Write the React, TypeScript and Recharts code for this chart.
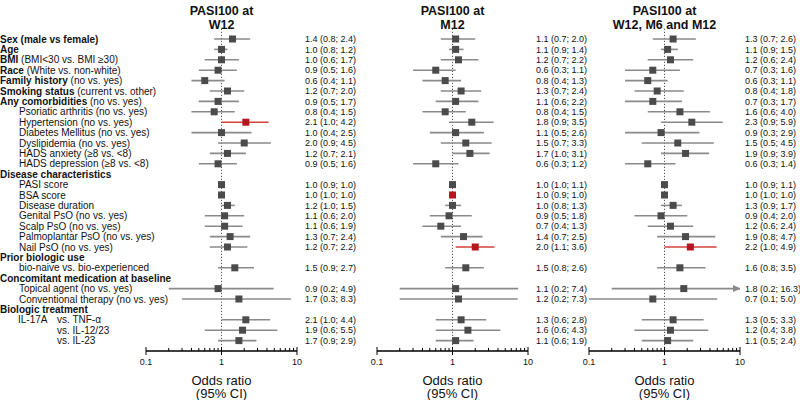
import React from "react";
import {
  ComposedChart,
  Scatter,
  XAxis,
  YAxis,
  ErrorBar,
  ReferenceLine,
  ReferenceArea,
  Label,
} from "recharts";

// row labels: [bold part, normal part, indent]
const ROW_LABELS: Array<[string, string, number]> = [
  ["Sex (male vs female)", "", 0],
  ["Age", "", 0],
  ["BMI", " (BMI<30 vs. BMI \u226530)", 0],
  ["Race", " (White vs. non-white)", 0],
  ["Family history", " (no vs. yes)", 0],
  ["Smoking status", " (current vs. other)", 0],
  ["Any comorbidities", " (no vs. yes)", 0],
  ["", "Psoriatic arthritis (no vs. yes)", 19],
  ["", "Hypertension (no vs. yes)", 19],
  ["", "Diabetes Mellitus (no vs. yes)", 19],
  ["", "Dyslipidemia (no vs. yes)", 19],
  ["", "HADS anxiety (\u22658 vs. <8)", 19],
  ["", "HADS depression (\u22658 vs. <8)", 19],
  ["Disease characteristics", "", 0],
  ["", "PASI score", 19],
  ["", "BSA score", 19],
  ["", "Disease duration", 19],
  ["", "Genital PsO (no vs. yes)", 19],
  ["", "Scalp PsO (no vs. yes)", 19],
  ["", "Palmoplantar PsO (no vs. yes)", 19],
  ["", "Nail PsO (no vs. yes)", 19],
  ["Prior biologic use", "", 0],
  ["", "bio-naive vs. bio-experienced", 19],
  ["Concomitant medication at baseline", "", 0],
  ["", "Topical agent (no vs. yes)", 19],
  ["", "Conventional therapy (no vs. yes)", 19],
  ["Biologic treatment", "", 0],
  ["", "vs. TNF-\u03b1", 57],
  ["", "vs. IL-12/23", 57],
  ["", "vs. IL-23", 57],
];
const ROW_TAGS: Record<number, string> = { 27: "IL-17A" };

// rows that carry an estimate
const DATA_ROWS = [0, 1, 2, 3, 4, 5, 6, 7, 8, 9, 10, 11, 12, 14, 15, 16, 17, 18, 19, 20, 22, 24, 25, 27, 28, 29];

const W12_OR = [1.4, 1.0, 1.0, 0.9, 0.6, 1.2, 0.9, 0.8, 2.1, 1.0, 2.0, 1.2, 0.9, 1.0, 1.0, 1.2, 1.1, 1.1, 1.3, 1.2, 1.5, 0.9, 1.7, 2.1, 1.9, 1.7];
const W12_LO = [0.8, 0.8, 0.6, 0.5, 0.4, 0.7, 0.5, 0.4, 1.0, 0.4, 0.9, 0.7, 0.5, 0.9, 1.0, 1.0, 0.6, 0.6, 0.7, 0.7, 0.9, 0.2, 0.3, 1.0, 0.6, 0.9];
const W12_HI = [2.4, 1.2, 1.7, 1.6, 1.1, 2.0, 1.7, 1.5, 4.2, 2.5, 4.5, 2.1, 1.6, 1.0, 1.0, 1.5, 2.0, 1.9, 2.4, 2.2, 2.7, 4.9, 8.3, 4.4, 5.5, 2.9];
const W12_SIG = [8];

const M12_OR = [1.1, 1.1, 1.2, 0.6, 0.8, 1.3, 1.1, 0.8, 1.8, 1.1, 1.5, 1.7, 0.6, 1.0, 1.0, 1.0, 0.9, 0.7, 1.4, 2.0, 1.5, 1.1, 1.2, 1.3, 1.6, 1.1];
const M12_LO = [0.7, 0.9, 0.7, 0.3, 0.4, 0.7, 0.6, 0.4, 0.9, 0.5, 0.7, 1.0, 0.3, 1.0, 0.9, 0.8, 0.5, 0.4, 0.7, 1.1, 0.8, 0.2, 0.2, 0.6, 0.6, 0.6];
const M12_HI = [2.0, 1.4, 2.2, 1.1, 1.3, 2.4, 2.2, 1.5, 3.5, 2.6, 3.3, 3.1, 1.2, 1.1, 1.0, 1.3, 1.8, 1.3, 2.5, 3.6, 2.6, 7.4, 7.3, 2.8, 4.3, 1.9];
const M12_SIG = [15, 20];

const ALL_OR = [1.3, 1.1, 1.2, 0.7, 0.6, 0.8, 0.7, 1.6, 2.3, 0.9, 1.5, 1.9, 0.6, 1.0, 1.0, 1.3, 0.9, 1.2, 1.9, 2.2, 1.6, 1.8, 0.7, 1.3, 1.2, 1.1];
const ALL_LO = [0.7, 0.9, 0.6, 0.3, 0.3, 0.4, 0.3, 0.6, 0.9, 0.3, 0.5, 0.9, 0.3, 0.9, 1.0, 0.9, 0.4, 0.6, 0.8, 1.0, 0.8, 0.2, 0.1, 0.5, 0.4, 0.5];
const ALL_HI = [2.6, 1.5, 2.4, 1.6, 1.1, 1.8, 1.7, 4.0, 5.9, 2.9, 4.5, 3.9, 1.4, 1.1, 1.0, 1.7, 2.0, 2.4, 4.7, 4.9, 3.5, 16.3, 5.0, 3.3, 3.8, 2.4];
const ALL_SIG = [20];

// grey background bands, in row units
const BANDS: Array<[number, number]> = [
  [-1, 5.5],
  [12.5, 20.5],
  [22.5, 25.5],
];

const X_TICKS = [0.1, 0.2, 0.3, 0.4, 0.5, 0.6, 0.7, 0.8, 0.9, 1, 2, 3, 4, 5, 6, 7, 8, 9, 10];
const X_MAJOR = [0.1, 1, 10];
const X_MAX = 10;
const ROW_DOMAIN: [number, number] = [-1, 30];

const TOP = 28.6;
const AXIS_H = 49;
const H = 400;
const GREY = "#4b4b4b";
const GREY_LINE = "#8a8a8a";
const RED = "#b3161b";
const RED_LINE = "#d2423e";
const FONT = "'Liberation Sans', Arial, sans-serif";

type Pt = { row: number; or: number; lo: number; hi: number; err: [number, number]; sig: boolean; text: string };

function buildPoints(or: number[], lo: number[], hi: number[], sig: number[]): Pt[] {
  return DATA_ROWS.map((row, i) => ({
    row,
    or: or[i],
    lo: lo[i],
    hi: hi[i],
    err: [or[i] - lo[i], Math.min(hi[i], X_MAX) - or[i]],
    sig: sig.includes(row),
    text: `${or[i].toFixed(1)} (${lo[i].toFixed(1)}; ${hi[i].toFixed(1)})`,
  }));
}

const Square = (p: any) => (
  <rect x={p.cx - 3.5} y={p.cy - 3.5} width={7} height={7} fill={p.fill} />
);

const Arrow = (p: any) => (
  <polygon points={`${p.cx - 7},${p.cy - 3.5} ${p.cx + 1},${p.cy} ${p.cx - 7},${p.cy + 3.5}`} fill={GREY_LINE} />
);

const LogTick = (p: any) => {
  const v = p.payload.value;
  const major = X_MAJOR.some((m) => Math.abs(m - v) < 1e-9);
  return (
    <g>
      <line x1={p.x} x2={p.x} y1={major ? p.y - 4 : p.y - 3} y2={major ? p.y + 4 : p.y} stroke="#000" strokeWidth={1} />
      {major && (
        <text x={p.x} y={p.y + 14} textAnchor="middle" fontSize={9} fill="#111">
          {String(v)}
        </text>
      )}
    </g>
  );
};

const RowLabel = (p: any) => {
  const r = p.payload.value;
  const lab = ROW_LABELS[r];
  if (!lab) return null;
  const [b, n, indent] = lab;
  return (
    <g>
      {ROW_TAGS[r] && (
        <text x={18} y={p.y} dy={3.5} fontSize={10} fill="#111">
          {ROW_TAGS[r]}
        </text>
      )}
      <text x={indent} y={p.y} dy={3.5} fontSize={10} fill="#111">
        {b && <tspan fontWeight="bold">{b}</tspan>}
        {n && <tspan>{n}</tspan>}
      </text>
    </g>
  );
};

const AxisTitle = (p: any) => {
  const vb = p.viewBox;
  const cx = vb.x + vb.width / 2;
  return (
    <text x={cx} textAnchor="middle" fontSize={13} fill="#111">
      <tspan x={cx} y={vb.y + 33.5}>Odds ratio</tspan>
      <tspan x={cx} y={vb.y + 46.5}>(95% CI)</tspan>
    </text>
  );
};

type PanelProps = {
  title: string[];
  points: Pt[];
  left: number;
  labelW: number;
  plotW: number;
  rightW: number;
  marginLeft: number;
  textDx: number;
};

function Panel({ title, points, left, labelW, plotW, rightW, marginLeft, textDx }: PanelProps) {
  const width = marginLeft + labelW + plotW + rightW;
  const plain = points.filter((p) => !p.sig);
  const sig = points.filter((p) => p.sig);
  const arrows = points.filter((p) => p.hi > X_MAX).map((p) => ({ row: p.row, or: X_MAX }));
  const textByRow: Record<number, string> = {};
  points.forEach((p) => (textByRow[p.row] = p.text));
  const plotLeft = left + marginLeft + labelW;
  const ValueTick = (p: any) => (
    <text x={p.x + textDx} y={p.y} dy={3.2} fontSize={9} fill="#111" textAnchor="start">
      {textByRow[p.payload.value] ?? ""}
    </text>
  );
  return (
    <>
      <div
        style={{
          position: "absolute",
          left: plotLeft - 40,
          width: plotW + 80,
          top: 4,
          textAlign: "center",
          fontWeight: "bold",
          fontSize: 12.5,
          lineHeight: "14px",
          color: "#111",
        }}
      >
        {title.map((t) => (
          <div key={t}>{t}</div>
        ))}
      </div>
      <div style={{ position: "absolute", left, top: 0 }}>
        <ComposedChart
          width={width}
          height={H}
          margin={{ top: TOP, bottom: 0, left: marginLeft, right: 0 }}
        >
          <XAxis
            type="number"
            dataKey="or"
            scale="log"
            domain={[0.1, 10]}
            allowDataOverflow
            ticks={X_TICKS}
            interval={0}
            tick={<LogTick />}
            tickLine={false}
            tickSize={0}
            tickMargin={0}
            axisLine={{ stroke: "#000", strokeWidth: 1.5 }}
            height={AXIS_H}
          >
            <Label content={<AxisTitle />} />
          </XAxis>
          <YAxis
            yAxisId="l"
            type="number"
            dataKey="row"
            domain={ROW_DOMAIN}
            reversed
            allowDataOverflow
            ticks={ROW_LABELS.map((_, i) => i)}
            interval={0}
            hide={labelW === 0}
            width={labelW}
            tick={<RowLabel />}
            tickLine={false}
            axisLine={false}
          />
          <YAxis
            yAxisId="r"
            orientation="right"
            type="number"
            dataKey="row"
            domain={ROW_DOMAIN}
            reversed
            allowDataOverflow
            ticks={DATA_ROWS}
            interval={0}
            width={rightW}
            tick={<ValueTick />}
            tickLine={false}
            axisLine={false}
          />
          <ReferenceLine yAxisId="l" x={1} stroke="#555" strokeDasharray="1.2 1.8" strokeWidth={1} />
          <Scatter yAxisId="l" data={plain} fill={GREY} shape={<Square />} isAnimationActive={false}>
            <ErrorBar dataKey="err" direction="x" width={0} stroke={GREY_LINE} strokeWidth={1.6} isAnimationActive={false} />
          </Scatter>
          <Scatter yAxisId="l" data={sig} fill={RED} shape={<Square />} isAnimationActive={false}>
            <ErrorBar dataKey="err" direction="x" width={0} stroke={RED_LINE} strokeWidth={1.6} isAnimationActive={false} />
          </Scatter>
          <Scatter yAxisId="l" data={arrows} fill={GREY_LINE} shape={<Arrow />} isAnimationActive={false} />
        </ComposedChart>
      </div>
    </>
  );
}

function Bands() {
  return (
    <div style={{ position: "absolute", left: 0, top: 0 }}>
      <ComposedChart width={800} height={H} margin={{ top: TOP, bottom: AXIS_H, left: 0, right: 0 }}>
        <XAxis type="number" dataKey="x" domain={[0, 1]} hide />
        <YAxis type="number" dataKey="row" domain={ROW_DOMAIN} reversed allowDataOverflow hide />
        {BANDS.map(([a, b]) => (
          <ReferenceArea key={a} x1={0} x2={1} y1={a} y2={b} fill="#ebebeb" fillOpacity={1} stroke="none" ifOverflow="visible" />
        ))}
      </ComposedChart>
    </div>
  );
}

export default function App() {
  const w12 = buildPoints(W12_OR, W12_LO, W12_HI, W12_SIG);
  const m12 = buildPoints(M12_OR, M12_LO, M12_HI, M12_SIG);
  const all = buildPoints(ALL_OR, ALL_LO, ALL_HI, ALL_SIG);
  return (
    <div
      style={{
        position: "absolute",
        left: 0,
        top: 0,
        width: 800,
        height: H,
        background: "#fff",
        fontFamily: FONT,
        overflow: "hidden",
      }}
    >
      <Bands />
      <Panel title={["PASI100 at", "W12"]} points={w12} left={0} marginLeft={0} labelW={146} plotW={151} rightW={78} textDx={0} />
      <Panel title={["PASI100 at", "M12"]} points={m12} left={360} marginLeft={17} labelW={0} plotW={151} rightW={72} textDx={0} />
      <Panel title={["PASI100 at", "W12, M6 and M12"]} points={all} left={572} marginLeft={17} labelW={0} plotW={151} rightW={60} textDx={-3} />
    </div>
  );
}
